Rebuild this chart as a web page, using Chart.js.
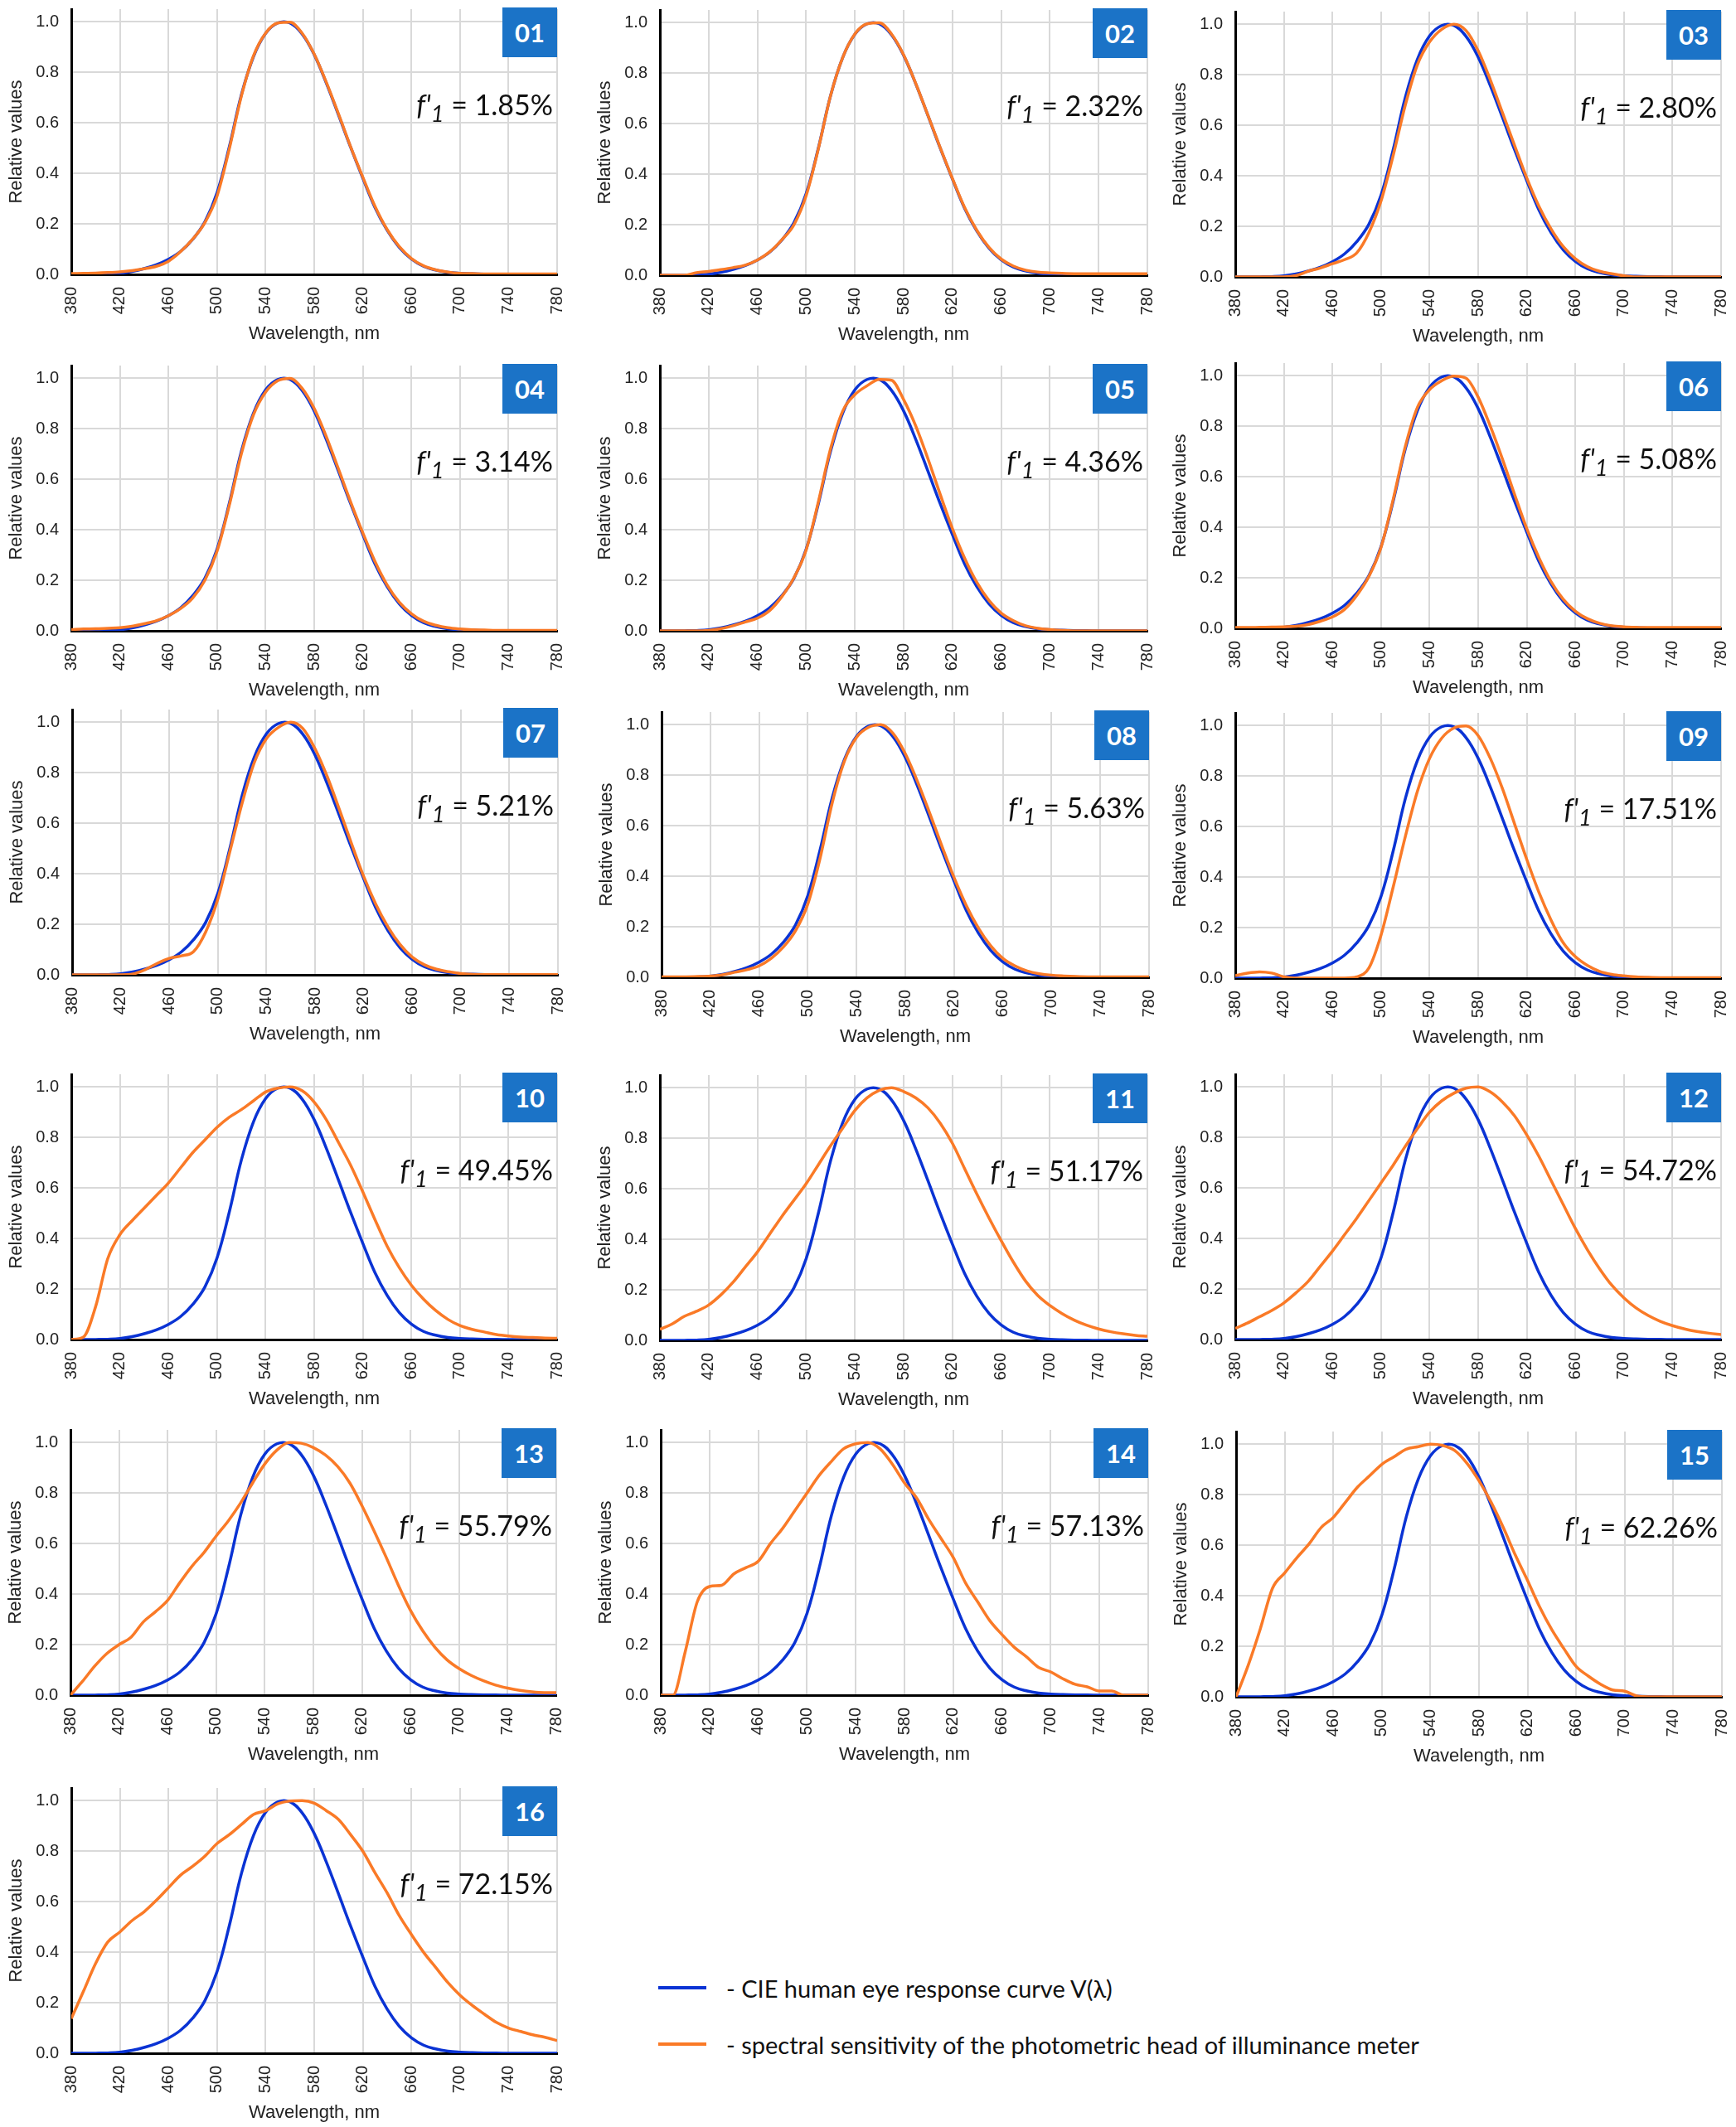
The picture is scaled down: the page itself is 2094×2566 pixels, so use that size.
<!DOCTYPE html>
<html>
<head>
<meta charset="utf-8">
<script src="https://cdn.jsdelivr.net/npm/chart.js@4.4.1/dist/chart.umd.min.js"></script>
<style>
  html, body { margin: 0; padding: 0; background: #fff; }
  body { width: 2094px; height: 2566px; position: relative; overflow: hidden; font-family: Lato, "Open Sans", sans-serif; }
  .panel { position: absolute; }
  .badge { position: absolute; width: 66px; height: 60px; background: #1b73c7; color: #fff; font-weight: 700; font-size: 31px; line-height: 60px; text-align: center; }
  .f1 { position: absolute; width: 300px; text-align: right; font-size: 34px; line-height: 40px; color: #111; white-space: nowrap; }
  .f1 sub { font-size: 0.8em; position: relative; top: 0.28em; vertical-align: baseline; }
  .legend-row { position: absolute; left: 794px; height: 40px; display: flex; align-items: center; font-size: 29px; color: #111; white-space: nowrap; }
  .legend-line { width: 58px; height: 4px; margin-right: 24px; }
</style>
</head>
<body>
<script>
// Datos de las gráficas //////////////////////////////////

// Longitudes de onda (nm), paso de 10 nm
const wavelengths = [380,390,400,410,420,430,440,450,460,470,480,490,500,510,520,530,540,550,560,570,580,
  590,600,610,620,630,640,650,660,670,680,690,700,710,720,730,740,750,760,770,780];

// Curva CIE V(λ)
const vLambda = [0.00004,0.00012,0.0004,0.0012,0.004,0.0116,0.023,0.038,0.06,0.091,0.139,0.208,0.323,0.503,0.71,
  0.862,0.954,0.995,0.995,0.952,0.87,0.757,0.631,0.503,0.381,0.265,0.175,0.107,0.061,0.032,0.017,0.0082,0.0041,
  0.0021,0.001,0.0005,0.00025,0.00012,0.00006,0.00003,0.000015];

// Sensibilidad espectral de cada cabeza fotométrica
const head01 = [0.003,0.004,0.005,0.007,0.010,0.015,0.022,0.032,0.052,0.090,0.140,0.205,0.310,0.495,0.705,0.865,0.955,0.995,0.998,0.955,0.872,
  0.760,0.635,0.505,0.385,0.270,0.178,0.110,0.063,0.034,0.018,0.009,0.004,0.003,0.002,0.002,0.002,0.002,0.002,0.002,0.002];
const head02 = [0,0,0,0.010,0.015,0.022,0.030,0.040,0.060,0.092,0.140,0.200,0.315,0.500,0.710,0.862,0.955,0.995,0.999,0.955,0.872,
  0.758,0.632,0.505,0.383,0.268,0.178,0.110,0.064,0.036,0.020,0.012,0.009,0.007,0.006,0.006,0.006,0.006,0.006,0.006,0.006];
const head03 = [0,0,0,0,0,0.005,0.022,0.035,0.052,0.068,0.095,0.175,0.300,0.480,0.680,0.840,0.930,0.980,1.000,0.975,0.895,
  0.780,0.650,0.520,0.392,0.280,0.190,0.120,0.072,0.040,0.022,0.012,0.004,0,0,0,0,0,0,0,0];
const head04 = [0.005,0.007,0.008,0.010,0.012,0.018,0.028,0.040,0.060,0.088,0.130,0.200,0.315,0.495,0.700,0.855,0.945,0.990,0.999,0.960,0.880,
  0.768,0.640,0.510,0.388,0.275,0.182,0.114,0.068,0.038,0.022,0.012,0.007,0.004,0.003,0.002,0.002,0.002,0.002,0.002,0.002];
const head05 = [0,0,0,0,0.002,0.008,0.020,0.035,0.050,0.080,0.135,0.210,0.320,0.510,0.720,0.870,0.935,0.970,0.995,0.992,0.915,
  0.810,0.680,0.540,0.405,0.288,0.192,0.120,0.070,0.040,0.020,0.010,0.005,0.002,0,0,0,0,0,0,0];
const head06 = [0.003,0.003,0.004,0.005,0.006,0.008,0.015,0.028,0.045,0.075,0.130,0.205,0.320,0.510,0.720,0.875,0.945,0.980,0.998,0.990,0.915,
  0.800,0.670,0.530,0.395,0.280,0.185,0.115,0.068,0.038,0.020,0.010,0.006,0.004,0.003,0.003,0.003,0.003,0.003,0.003,0.003];
const head07 = [0,0,0,0,0,0.003,0.020,0.045,0.065,0.075,0.092,0.170,0.300,0.490,0.680,0.840,0.935,0.980,1.000,0.975,0.895,
  0.785,0.655,0.520,0.390,0.280,0.190,0.120,0.070,0.040,0.022,0.012,0.005,0.002,0.001,0.001,0.001,0.001,0.001,0.001,0.001];
const head08 = [0.002,0.002,0.002,0.003,0.005,0.010,0.020,0.030,0.045,0.075,0.120,0.185,0.290,0.470,0.690,0.855,0.950,0.990,1.000,0.965,0.885,
  0.775,0.650,0.520,0.395,0.285,0.195,0.125,0.075,0.045,0.025,0.014,0.008,0.005,0.003,0.002,0.002,0.002,0.002,0.002,0.002];
const head09 = [0.010,0.020,0.025,0.020,0.005,0,0,0,0,0,0.005,0.040,0.170,0.360,0.560,0.740,0.870,0.950,0.990,0.998,0.960,
  0.870,0.750,0.610,0.470,0.340,0.230,0.140,0.085,0.050,0.027,0.015,0.009,0.005,0.003,0.002,0.002,0.002,0.002,0.002,0.002];
const head10 = [0,0.010,0.130,0.320,0.415,0.470,0.520,0.570,0.620,0.680,0.740,0.790,0.840,0.880,0.910,0.945,0.980,0.995,1.000,0.985,0.940,
  0.870,0.780,0.690,0.585,0.475,0.370,0.285,0.215,0.160,0.115,0.080,0.055,0.040,0.030,0.020,0.014,0.010,0.008,0.006,0.005];
const head11 = [0.044,0.065,0.095,0.115,0.140,0.180,0.230,0.290,0.350,0.420,0.490,0.555,0.620,0.695,0.770,0.840,0.910,0.960,0.990,1.000,0.985,
  0.960,0.920,0.860,0.780,0.680,0.580,0.485,0.395,0.310,0.235,0.178,0.138,0.106,0.080,0.060,0.045,0.034,0.026,0.020,0.016];
const head12 = [0.044,0.065,0.090,0.115,0.145,0.185,0.230,0.290,0.350,0.415,0.480,0.550,0.620,0.690,0.765,0.835,0.900,0.945,0.975,0.995,1.000,
  0.980,0.940,0.885,0.810,0.725,0.630,0.535,0.440,0.355,0.280,0.215,0.165,0.125,0.095,0.072,0.055,0.042,0.032,0.025,0.020];
const head13 = [0,0.055,0.115,0.165,0.200,0.230,0.290,0.330,0.375,0.445,0.510,0.565,0.630,0.690,0.760,0.840,0.915,0.970,1.000,0.997,0.980,
  0.950,0.905,0.840,0.750,0.650,0.545,0.435,0.335,0.255,0.190,0.140,0.105,0.078,0.057,0.040,0.028,0.019,0.013,0.010,0.010];
const head14 = [0,0,0.170,0.370,0.430,0.435,0.480,0.505,0.530,0.600,0.660,0.730,0.800,0.870,0.925,0.975,0.995,1.000,0.975,0.915,0.840,
  0.780,0.695,0.620,0.545,0.445,0.370,0.295,0.240,0.190,0.152,0.110,0.092,0.065,0.043,0.033,0.016,0.016,0,0,0];
const head15 = [0,0.125,0.270,0.430,0.490,0.550,0.605,0.670,0.710,0.770,0.830,0.875,0.920,0.950,0.980,0.990,1.000,0.995,0.975,0.925,0.855,
  0.770,0.670,0.560,0.460,0.355,0.265,0.190,0.120,0.082,0.050,0.027,0.022,0.003,0,0,0,0,0,0,0];
const head16 = [0.137,0.245,0.355,0.440,0.480,0.525,0.560,0.605,0.655,0.705,0.740,0.780,0.830,0.865,0.905,0.945,0.960,0.987,0.998,1.000,0.990,
  0.960,0.925,0.865,0.800,0.715,0.635,0.545,0.470,0.400,0.340,0.280,0.230,0.190,0.155,0.122,0.100,0.086,0.073,0.063,0.050];

const heads = [head01,head02,head03,head04,head05,head06,head07,head08,head09,head10,head11,head12,head13,head14,head15,head16];
const panelIds = ['01','02','03','04','05','06','07','08','09','10','11','12','13','14','15','16'];
const f1Values = ['1.85%','2.32%','2.80%','3.14%','4.36%','5.08%','5.21%','5.63%','17.51%','49.45%','51.17%','54.72%','55.79%','57.13%','62.26%','72.15%'];
const yTicks = [0, 0.2, 0.4, 0.6, 0.8, 1.0];

const legendLabels = ['- CIE human eye response curve V(λ)', '- spectral sensitivity of the photometric head of illuminance meter'];

// Colores
const BLUE = '#0a33d4';
const ORANGE = '#fa7a27';
const GRID = '#d9d9d9';
const TXT = '#222';

// Posición de cada panel: [x del eje 380 nm, y de la línea 1.0, ancho del área]
const panelPos = [
  [86, 26, 586], [796, 27, 588], [1490, 29, 586],
  [86, 456, 586], [796, 456, 588], [1490, 453, 586],
  [87, 871, 586], [798, 874, 588], [1490, 875, 586],
  [86, 1311, 586], [796, 1312, 588], [1490, 1311, 586],
  [85, 1740, 586], [797, 1740, 588], [1491, 1742, 586],
  [86, 2172, 586]
];

const AXIS_W = 85;   // ancho del eje y
const PAD_TOP = 11;  // espacio sobre el área (de 1.05)
const PLOT_H = 320;  // alto del área (0 .. 1.05)
const XAXIS_H = 90;  // alto del eje x
const PAD_RIGHT = 14;

const tickFont = { family: "'Liberation Sans', Arial, sans-serif", size: 20 };
const titleFont = { family: "'Liberation Sans', Arial, sans-serif", size: 22 };

function toPoints(values) {
  return wavelengths.map((w, i) => ({ x: w, y: values[i] }));
}

function makePanel(i) {
  const [plotLeft, y1, plotW] = panelPos[i];
  const left = plotLeft - AXIS_W;
  const top = Math.round(y1 - PAD_TOP - PLOT_H / 1.05 * 0.05);
  const W = AXIS_W + plotW + PAD_RIGHT;
  const H = PAD_TOP + PLOT_H + XAXIS_H;

  const box = document.createElement('div');
  box.className = 'panel';
  box.style.left = left + 'px';
  box.style.top = top + 'px';
  const canvas = document.createElement('canvas');
  canvas.width = W;
  canvas.height = H;
  box.appendChild(canvas);
  document.body.appendChild(box);

  new Chart(canvas, {
    type: 'line',
    data: {
      datasets: [
        { label: legendLabels[1], data: toPoints(heads[i]), borderColor: ORANGE, borderWidth: 3.5,
          pointRadius: 0, cubicInterpolationMode: 'monotone', order: 0 },
        { label: legendLabels[0], data: toPoints(vLambda), borderColor: BLUE, borderWidth: 3.5,
          pointRadius: 0, tension: 0.4, order: 1 }
      ]
    },
    options: {
      responsive: false,
      animation: false,
      events: [],
      layout: { padding: { left: 0, top: PAD_TOP, right: PAD_RIGHT, bottom: 0 } },
      plugins: { legend: { display: false }, tooltip: { enabled: false } },
      scales: {
        x: {
          type: 'linear', min: 380, max: 780,
          ticks: { stepSize: 40, autoSkip: false, minRotation: 90, maxRotation: 90, padding: 15, color: TXT, font: tickFont },
          grid: { color: GRID, lineWidth: 2, drawTicks: false },
          border: { color: '#000', width: 3 },
          title: { display: true, text: 'Wavelength, nm', color: TXT, font: titleFont, padding: { top: 0, bottom: 5 } },
          afterFit: s => { s.height = XAXIS_H; s.paddingLeft = 0; s.paddingRight = 0; }
        },
        y: {
          min: 0, max: 1.05,
          afterBuildTicks: s => { s.ticks = yTicks.map(v => ({ value: v })); },
          ticks: { padding: 15, color: TXT, font: tickFont, callback: v => v.toFixed(1) },
          grid: { color: GRID, lineWidth: 2, drawTicks: false },
          border: { color: '#000', width: 3 },
          title: { display: true, text: 'Relative values', color: TXT, font: titleFont, padding: { top: 6, bottom: 0 } },
          afterFit: s => { s.width = AXIS_W; s.paddingTop = 0; s.paddingBottom = 0; }
        }
      }
    }
  });

  // Número del panel
  const plotTop = y1 - Math.round(PLOT_H / 1.05 * 0.05);
  const plotRight = plotLeft + plotW;
  const badge = document.createElement('div');
  badge.className = 'badge';
  badge.textContent = panelIds[i];
  badge.style.left = (plotRight - 66) + 'px';
  badge.style.top = (plotTop - 2) + 'px';
  document.body.appendChild(badge);

  // Etiqueta f'1
  const lab = document.createElement('div');
  lab.className = 'f1';
  lab.innerHTML = "<i>f'<sub>1</sub></i> = " + f1Values[i];
  lab.style.left = (plotRight - 5 - 300) + 'px';
  lab.style.top = (y1 + 80) + 'px';
  document.body.appendChild(lab);
}

for (let i = 0; i < panelIds.length; i++) makePanel(i);

// Leyenda
[[BLUE, 2378], [ORANGE, 2446]].forEach(([color, top], k) => {
  const row = document.createElement('div');
  row.className = 'legend-row';
  row.style.top = top + 'px';
  const line = document.createElement('div');
  line.className = 'legend-line';
  line.style.background = color;
  const txt = document.createElement('span');
  txt.textContent = legendLabels[k];
  row.appendChild(line);
  row.appendChild(txt);
  document.body.appendChild(row);
});
</script>
</body>
</html>
